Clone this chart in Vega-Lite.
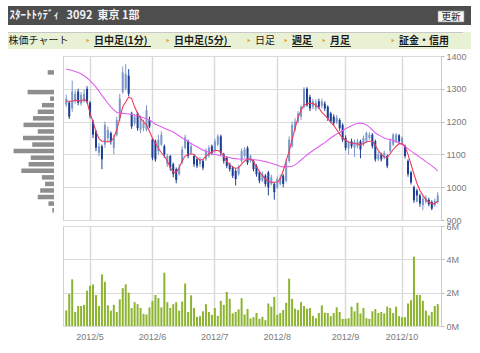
{
  "$schema": "https://vega.github.io/schema/vega-lite/v6.json",
  "padding": {"left": 7, "top": 6, "right": 2, "bottom": 2},
  "background": "white",
  "config": {"font": "Liberation Sans", "view": {"stroke": null}},
  "datasets": {
    "px": [
{"d":"2012-04-18","o":1252,"h":1282,"l":1245,"c":1270,"v":0.94,"m1":1263,"m2":1360},
{"d":"2012-04-19","o":1258,"h":1262,"l":1208,"c":1215,"v":1.92,"m1":1262,"m2":1358},
{"d":"2012-04-20","o":1240,"h":1325,"l":1230,"c":1292,"v":2.8,"m1":1262,"m2":1356},
{"d":"2012-04-23","o":1262,"h":1296,"l":1255,"c":1285,"v":0.84,"m1":1265,"m2":1353},
{"d":"2012-04-24","o":1292,"h":1300,"l":1250,"c":1258,"v":1.2,"m1":1264,"m2":1350},
{"d":"2012-04-25","o":1255,"h":1290,"l":1248,"c":1282,"v":1.2,"m1":1262,"m2":1346},
{"d":"2012-04-26","o":1262,"h":1298,"l":1258,"c":1285,"v":1.27,"m1":1268,"m2":1340},
{"d":"2012-04-27","o":1300,"h":1308,"l":1255,"c":1262,"v":2.12,"m1":1260,"m2":1333},
{"d":"2012-05-01","o":1258,"h":1262,"l":1210,"c":1218,"v":2.41,"m1":1225,"m2":1325},
{"d":"2012-05-02","o":1200,"h":1205,"l":1150,"c":1160,"v":2.49,"m1":1200,"m2":1315},
{"d":"2012-05-07","o":1170,"h":1175,"l":1110,"c":1120,"v":1.86,"m1":1170,"m2":1305},
{"d":"2012-05-08","o":1105,"h":1135,"l":1095,"c":1125,"v":1.2,"m1":1148,"m2":1293},
{"d":"2012-05-09","o":1125,"h":1130,"l":1055,"c":1085,"v":3.1,"m1":1140,"m2":1280},
{"d":"2012-05-10","o":1130,"h":1200,"l":1120,"c":1190,"v":2.65,"m1":1140,"m2":1268},
{"d":"2012-05-11","o":1150,"h":1185,"l":1140,"c":1175,"v":1.24,"m1":1138,"m2":1256},
{"d":"2012-05-14","o":1165,"h":1170,"l":1130,"c":1140,"v":0.92,"m1":1140,"m2":1245},
{"d":"2012-05-15","o":1120,"h":1160,"l":1100,"c":1150,"v":1.27,"m1":1150,"m2":1236},
{"d":"2012-05-16","o":1160,"h":1215,"l":1155,"c":1205,"v":0.84,"m1":1175,"m2":1228},
{"d":"2012-05-17","o":1210,"h":1285,"l":1200,"c":1270,"v":1.6,"m1":1210,"m2":1226},
{"d":"2012-05-18","o":1290,"h":1368,"l":1285,"c":1350,"v":2.27,"m1":1245,"m2":1225},
{"d":"2012-05-21","o":1300,"h":1375,"l":1295,"c":1345,"v":2.5,"m1":1260,"m2":1224},
{"d":"2012-05-22","o":1340,"h":1360,"l":1278,"c":1285,"v":2.0,"m1":1275,"m2":1223},
{"d":"2012-05-23","o":1225,"h":1230,"l":1178,"c":1185,"v":1.08,"m1":1270,"m2":1222},
{"d":"2012-05-24","o":1195,"h":1222,"l":1188,"c":1215,"v":1.43,"m1":1245,"m2":1220},
{"d":"2012-05-25","o":1225,"h":1230,"l":1172,"c":1180,"v":1.31,"m1":1225,"m2":1218},
{"d":"2012-05-28","o":1175,"h":1218,"l":1165,"c":1210,"v":1.08,"m1":1210,"m2":1215},
{"d":"2012-05-29","o":1180,"h":1205,"l":1170,"c":1195,"v":0.73,"m1":1200,"m2":1212},
{"d":"2012-05-30","o":1175,"h":1250,"l":1170,"c":1235,"v":0.69,"m1":1190,"m2":1208},
{"d":"2012-05-31","o":1205,"h":1215,"l":1180,"c":1185,"v":1.12,"m1":1170,"m2":1205},
{"d":"2012-06-01","o":1145,"h":1150,"l":1082,"c":1090,"v":1.51,"m1":1150,"m2":1199},
{"d":"2012-06-04","o":1140,"h":1145,"l":1078,"c":1085,"v":1.86,"m1":1135,"m2":1192},
{"d":"2012-06-05","o":1110,"h":1160,"l":1100,"c":1145,"v":1.67,"m1":1118,"m2":1188},
{"d":"2012-06-06","o":1130,"h":1170,"l":1125,"c":1160,"v":1.12,"m1":1105,"m2":1184},
{"d":"2012-06-07","o":1125,"h":1130,"l":1090,"c":1100,"v":3.2,"m1":1095,"m2":1180},
{"d":"2012-06-08","o":1070,"h":1102,"l":1062,"c":1095,"v":1.43,"m1":1080,"m2":1176},
{"d":"2012-06-11","o":1095,"h":1098,"l":1050,"c":1060,"v":1.08,"m1":1060,"m2":1172},
{"d":"2012-06-12","o":1070,"h":1075,"l":1030,"c":1040,"v":1.31,"m1":1045,"m2":1168},
{"d":"2012-06-13","o":1055,"h":1060,"l":1012,"c":1022,"v":1.43,"m1":1045,"m2":1162},
{"d":"2012-06-14","o":1040,"h":1070,"l":1035,"c":1060,"v":0.92,"m1":1060,"m2":1156},
{"d":"2012-06-15","o":1075,"h":1125,"l":1070,"c":1115,"v":1.47,"m1":1080,"m2":1150},
{"d":"2012-06-18","o":1120,"h":1160,"l":1115,"c":1152,"v":2.55,"m1":1095,"m2":1145},
{"d":"2012-06-19","o":1140,"h":1145,"l":1088,"c":1095,"v":0.84,"m1":1100,"m2":1139},
{"d":"2012-06-20","o":1105,"h":1135,"l":1098,"c":1125,"v":1.84,"m1":1102,"m2":1133},
{"d":"2012-06-21","o":1095,"h":1100,"l":1062,"c":1070,"v":1.08,"m1":1100,"m2":1128},
{"d":"2012-06-22","o":1085,"h":1090,"l":1058,"c":1065,"v":0.55,"m1":1090,"m2":1123},
{"d":"2012-06-25","o":1070,"h":1092,"l":1062,"c":1085,"v":0.59,"m1":1082,"m2":1118},
{"d":"2012-06-26","o":1080,"h":1085,"l":1052,"c":1060,"v":0.88,"m1":1085,"m2":1113},
{"d":"2012-06-27","o":1085,"h":1118,"l":1080,"c":1110,"v":1.31,"m1":1095,"m2":1110},
{"d":"2012-06-28","o":1095,"h":1128,"l":1090,"c":1120,"v":0.84,"m1":1102,"m2":1106},
{"d":"2012-06-29","o":1125,"h":1130,"l":1098,"c":1105,"v":0.67,"m1":1108,"m2":1103},
{"d":"2012-07-02","o":1110,"h":1148,"l":1105,"c":1140,"v":1.08,"m1":1112,"m2":1100},
{"d":"2012-07-03","o":1130,"h":1162,"l":1125,"c":1155,"v":0.61,"m1":1112,"m2":1098},
{"d":"2012-07-04","o":1155,"h":1160,"l":1098,"c":1105,"v":1.51,"m1":1108,"m2":1096},
{"d":"2012-07-05","o":1100,"h":1105,"l":1072,"c":1080,"v":1.27,"m1":1095,"m2":1094},
{"d":"2012-07-06","o":1090,"h":1095,"l":1058,"c":1065,"v":2.04,"m1":1078,"m2":1092},
{"d":"2012-07-09","o":1070,"h":1075,"l":1048,"c":1055,"v":1.63,"m1":1068,"m2":1090},
{"d":"2012-07-10","o":1060,"h":1065,"l":1028,"c":1035,"v":0.76,"m1":1062,"m2":1088},
{"d":"2012-07-11","o":1050,"h":1055,"l":1005,"c":1025,"v":0.84,"m1":1057,"m2":1087},
{"d":"2012-07-12","o":1040,"h":1068,"l":1035,"c":1060,"v":1.0,"m1":1060,"m2":1086},
{"d":"2012-07-13","o":1080,"h":1118,"l":1075,"c":1110,"v":1.67,"m1":1070,"m2":1086},
{"d":"2012-07-17","o":1095,"h":1122,"l":1090,"c":1115,"v":0.69,"m1":1080,"m2":1086},
{"d":"2012-07-18","o":1120,"h":1125,"l":1068,"c":1075,"v":1.02,"m1":1085,"m2":1085},
{"d":"2012-07-19","o":1080,"h":1100,"l":1075,"c":1095,"v":0.45,"m1":1086,"m2":1085},
{"d":"2012-07-20","o":1080,"h":1085,"l":1048,"c":1055,"v":0.53,"m1":1078,"m2":1084},
{"d":"2012-07-23","o":1065,"h":1070,"l":1032,"c":1040,"v":0.78,"m1":1062,"m2":1083},
{"d":"2012-07-24","o":1045,"h":1050,"l":1012,"c":1020,"v":0.43,"m1":1048,"m2":1082},
{"d":"2012-07-25","o":1020,"h":1048,"l":1015,"c":1040,"v":0.55,"m1":1035,"m2":1080},
{"d":"2012-07-26","o":1035,"h":1040,"l":1002,"c":1010,"v":0.35,"m1":1025,"m2":1078},
{"d":"2012-07-27","o":1045,"h":1050,"l":975,"c":1000,"v":1.35,"m1":1018,"m2":1076},
{"d":"2012-07-30","o":1010,"h":1038,"l":1005,"c":1030,"v":1.16,"m1":1015,"m2":1073},
{"d":"2012-07-31","o":1010,"h":1015,"l":962,"c":985,"v":1.75,"m1":1015,"m2":1070},
{"d":"2012-08-01","o":1000,"h":1032,"l":995,"c":1025,"v":0.67,"m1":1015,"m2":1067},
{"d":"2012-08-02","o":1010,"h":1038,"l":1005,"c":1030,"v":0.78,"m1":1025,"m2":1064},
{"d":"2012-08-03","o":1035,"h":1040,"l":1000,"c":1010,"v":0.96,"m1":1050,"m2":1062},
{"d":"2012-08-06","o":1020,"h":1085,"l":1015,"c":1075,"v":1.39,"m1":1080,"m2":1062},
{"d":"2012-08-07","o":1080,"h":1155,"l":1075,"c":1145,"v":2.84,"m1":1110,"m2":1063},
{"d":"2012-08-08","o":1125,"h":1200,"l":1120,"c":1190,"v":1.63,"m1":1145,"m2":1064},
{"d":"2012-08-09","o":1175,"h":1210,"l":1170,"c":1200,"v":1.04,"m1":1180,"m2":1068},
{"d":"2012-08-10","o":1200,"h":1232,"l":1195,"c":1225,"v":0.96,"m1":1212,"m2":1075},
{"d":"2012-08-13","o":1215,"h":1250,"l":1205,"c":1245,"v":1.43,"m1":1235,"m2":1083},
{"d":"2012-08-14","o":1245,"h":1305,"l":1240,"c":1300,"v":1.2,"m1":1250,"m2":1091},
{"d":"2012-08-15","o":1300,"h":1305,"l":1245,"c":1250,"v":1.04,"m1":1254,"m2":1098},
{"d":"2012-08-16","o":1275,"h":1282,"l":1232,"c":1240,"v":1.08,"m1":1256,"m2":1105},
{"d":"2012-08-17","o":1245,"h":1270,"l":1238,"c":1262,"v":0.61,"m1":1255,"m2":1112},
{"d":"2012-08-20","o":1240,"h":1268,"l":1232,"c":1258,"v":0.47,"m1":1250,"m2":1118},
{"d":"2012-08-21","o":1262,"h":1270,"l":1238,"c":1245,"v":0.78,"m1":1242,"m2":1124},
{"d":"2012-08-22","o":1248,"h":1270,"l":1240,"c":1262,"v":1.24,"m1":1228,"m2":1130},
{"d":"2012-08-23","o":1255,"h":1262,"l":1232,"c":1240,"v":0.8,"m1":1220,"m2":1136},
{"d":"2012-08-24","o":1245,"h":1250,"l":1202,"c":1210,"v":0.78,"m1":1210,"m2":1143},
{"d":"2012-08-27","o":1225,"h":1230,"l":1195,"c":1200,"v":0.59,"m1":1198,"m2":1150},
{"d":"2012-08-28","o":1215,"h":1222,"l":1188,"c":1195,"v":0.78,"m1":1188,"m2":1156},
{"d":"2012-08-29","o":1198,"h":1220,"l":1192,"c":1212,"v":1.12,"m1":1175,"m2":1162},
{"d":"2012-08-30","o":1205,"h":1210,"l":1172,"c":1180,"v":0.84,"m1":1162,"m2":1167},
{"d":"2012-08-31","o":1190,"h":1195,"l":1138,"c":1145,"v":0.43,"m1":1150,"m2":1173},
{"d":"2012-09-03","o":1150,"h":1158,"l":1112,"c":1120,"v":0.43,"m1":1143,"m2":1178},
{"d":"2012-09-04","o":1118,"h":1142,"l":1100,"c":1135,"v":0.47,"m1":1138,"m2":1183},
{"d":"2012-09-05","o":1140,"h":1148,"l":1118,"c":1125,"v":1.16,"m1":1135,"m2":1187},
{"d":"2012-09-06","o":1120,"h":1145,"l":1092,"c":1138,"v":0.88,"m1":1133,"m2":1192},
{"d":"2012-09-07","o":1125,"h":1148,"l":1118,"c":1140,"v":1.39,"m1":1132,"m2":1194},
{"d":"2012-09-10","o":1140,"h":1145,"l":1088,"c":1115,"v":0.75,"m1":1130,"m2":1195},
{"d":"2012-09-11","o":1130,"h":1158,"l":1125,"c":1150,"v":1.08,"m1":1133,"m2":1194},
{"d":"2012-09-12","o":1140,"h":1170,"l":1135,"c":1165,"v":0.47,"m1":1138,"m2":1190},
{"d":"2012-09-13","o":1150,"h":1168,"l":1145,"c":1160,"v":0.43,"m1":1140,"m2":1183},
{"d":"2012-09-14","o":1160,"h":1165,"l":1118,"c":1125,"v":0.88,"m1":1140,"m2":1175},
{"d":"2012-09-18","o":1140,"h":1145,"l":1078,"c":1085,"v":1.02,"m1":1128,"m2":1165},
{"d":"2012-09-19","o":1085,"h":1108,"l":1080,"c":1100,"v":0.78,"m1":1112,"m2":1160},
{"d":"2012-09-20","o":1100,"h":1105,"l":1078,"c":1085,"v":0.84,"m1":1100,"m2":1155},
{"d":"2012-09-21","o":1090,"h":1112,"l":1085,"c":1105,"v":0.76,"m1":1092,"m2":1150},
{"d":"2012-09-24","o":1095,"h":1100,"l":1058,"c":1065,"v":1.16,"m1":1090,"m2":1147},
{"d":"2012-09-25","o":1110,"h":1148,"l":1105,"c":1140,"v":1.08,"m1":1102,"m2":1145},
{"d":"2012-09-26","o":1130,"h":1165,"l":1125,"c":1160,"v":0.78,"m1":1115,"m2":1142},
{"d":"2012-09-27","o":1140,"h":1165,"l":1135,"c":1160,"v":1.16,"m1":1125,"m2":1139},
{"d":"2012-09-28","o":1158,"h":1162,"l":1132,"c":1140,"v":0.59,"m1":1132,"m2":1135},
{"d":"2012-10-01","o":1135,"h":1155,"l":1128,"c":1150,"v":0.53,"m1":1133,"m2":1130},
{"d":"2012-10-02","o":1125,"h":1130,"l":1088,"c":1095,"v":0.53,"m1":1125,"m2":1124},
{"d":"2012-10-03","o":1080,"h":1085,"l":1032,"c":1040,"v":1.35,"m1":1100,"m2":1117},
{"d":"2012-10-04","o":1045,"h":1050,"l":1008,"c":1015,"v":1.55,"m1":1070,"m2":1110},
{"d":"2012-10-05","o":1000,"h":1005,"l":952,"c":960,"v":4.16,"m1":1040,"m2":1104},
{"d":"2012-10-09","o":990,"h":995,"l":955,"c":975,"v":1.86,"m1":1012,"m2":1098},
{"d":"2012-10-10","o":975,"h":980,"l":940,"c":950,"v":1.86,"m1":990,"m2":1091},
{"d":"2012-10-11","o":945,"h":972,"l":930,"c":965,"v":1.51,"m1":975,"m2":1085},
{"d":"2012-10-12","o":955,"h":975,"l":950,"c":968,"v":0.92,"m1":962,"m2":1078},
{"d":"2012-10-15","o":962,"h":968,"l":942,"c":948,"v":0.63,"m1":955,"m2":1072},
{"d":"2012-10-16","o":955,"h":960,"l":930,"c":935,"v":0.84,"m1":950,"m2":1065},
{"d":"2012-10-17","o":945,"h":965,"l":940,"c":958,"v":1.2,"m1":950,"m2":1058},
{"d":"2012-10-18","o":955,"h":985,"l":950,"c":975,"v":1.31,"m1":958,"m2":1050}
    ],
    "prof": [
      {"p":1350,"vol":2.6},{"p":1290,"vol":10.9},{"p":1270,"vol":1.6},{"p":1250,"vol":5.0},
      {"p":1230,"vol":6.7},{"p":1210,"vol":8.7},{"p":1190,"vol":12.6},{"p":1170,"vol":6.7},
      {"p":1150,"vol":12.8},{"p":1130,"vol":9.0},{"p":1110,"vol":16.7},{"p":1090,"vol":9.6},
      {"p":1070,"vol":10.5},{"p":1050,"vol":13.5},{"p":1030,"vol":5.0},{"p":1010,"vol":3.7},
      {"p":990,"vol":5.7},{"p":970,"vol":6.7},{"p":950,"vol":2.3},{"p":930,"vol":0.7}
    ]
  },
  "spacing": 2,
  "vconcat": [
    {
      "spacing": 7,
      "vconcat": [
        {
          "width": 463,
          "height": 19,
          "view": {"fill": "#4e4e4e", "stroke": null},
          "data": {"values": [
            {"item": "title", "k": 0, "text": "ｽﾀｰﾄﾄｩﾃﾞｨ\u00a0\u00a0\u00a03092\u00a0\u00a0東京\u00a01部"},
            {"item": "button", "k": 1, "text": "更新"}
          ]},
          "encoding": {
            "x": {"field": "k", "type": "quantitative", "scale": {"domain": [0, 1], "range": [1.5, 443], "nice": false}, "axis": null}
          },
          "layer": [
            {
              "transform": [{"filter": "datum.item == 'button'"}],
              "mark": {"type": "point", "shape": "M-1,-0.42H1V0.42H-1Z", "size": 676, "filled": true, "fill": "#f6f6f6", "stroke": "#999999", "strokeWidth": 0.6, "opacity": 1, "yOffset": 1}
            },
            {
              "transform": [{"filter": "datum.item == 'button'"}],
              "mark": {"type": "text", "align": "center", "baseline": "middle", "font": "Noto Sans CJK JP", "fontSize": 9.5, "color": "#222222", "yOffset": 1},
              "encoding": {"text": {"field": "text"}}
            },
            {
              "transform": [{"filter": "datum.item == 'title'"}],
              "mark": {"type": "text", "align": "left", "baseline": "middle", "font": "Noto Sans CJK JP", "fontSize": 11, "fontWeight": "bold", "color": "#f2f2f2"},
              "encoding": {"text": {"field": "text"}}
            }
          ]
        },
        {
          "width": 463,
          "height": 17,
          "view": {"fill": "#e9f1d5", "stroke": null},
          "data": {"values": [
            {"label": "株価チャート", "k": 0, "kind": "title"},
            {"label": "日中足(1分)", "k": 1, "kind": "link"},
            {"label": "日中足(5分)", "k": 2, "kind": "link"},
            {"label": "日足", "k": 3, "kind": "current"},
            {"label": "週足", "k": 4, "kind": "link"},
            {"label": "月足", "k": 5, "kind": "link"},
            {"label": "証金・信用", "k": 6, "kind": "link"}
          ]},
          "encoding": {
            "x": {"field": "k", "type": "quantitative", "scale": {"domain": [0, 1, 2, 3, 4, 5, 6], "range": [0.5, 86, 166, 247, 284, 322, 391], "nice": false}, "axis": null}
          },
          "layer": [
            {
              "mark": {"type": "rule", "color": "#c8c8c8", "strokeWidth": 1, "yOffset": -8, "xOffset": -0.5, "x2Offset": 64},
              "encoding": {"x": {"datum": 0}, "x2": {"datum": 6}}
            },
            {
              "transform": [{"filter": "datum.kind != 'title'"}],
              "mark": {"type": "point", "shape": "triangle-right", "size": 12, "filled": true, "color": "#f0a020", "opacity": 1, "xOffset": -6}
            },
            {
              "transform": [{"filter": "datum.kind != 'link'"}],
              "mark": {"type": "text", "align": "left", "baseline": "middle", "font": "Noto Sans CJK JP", "fontSize": 10, "color": "#1a1a1a"},
              "encoding": {"text": {"field": "label"}}
            },
            {
              "transform": [{"filter": "datum.kind == 'link'"}],
              "mark": {"type": "text", "align": "left", "baseline": "middle", "font": "Noto Sans CJK JP", "fontSize": 10, "fontWeight": "bold", "color": "#1a1a1a"},
              "encoding": {"text": {"field": "label"}}
            },
            {
              "transform": [{"filter": "datum.k == 1 || datum.k == 2"}],
              "mark": {"type": "rule", "color": "#1a1a1a", "strokeWidth": 1, "yOffset": 6, "x2Offset": 57},
              "encoding": {"x2": {"field": "k"}}
            },
            {
              "transform": [{"filter": "datum.k == 4 || datum.k == 5"}],
              "mark": {"type": "rule", "color": "#1a1a1a", "strokeWidth": 1, "yOffset": 6, "x2Offset": 21},
              "encoding": {"x2": {"field": "k"}}
            },
            {
              "transform": [{"filter": "datum.k == 6"}],
              "mark": {"type": "rule", "color": "#1a1a1a", "strokeWidth": 1, "yOffset": 6, "x2Offset": 49},
              "encoding": {"x2": {"field": "k"}}
            }
          ]
        }
      ]
    },
    {
      "spacing": 5,
      "hconcat": [
        {
          "width": 46,
          "height": 164,
          "data": {"name": "prof"},
          "mark": {"type": "rule", "strokeWidth": 4.5, "color": "#8e8e8e"},
          "encoding": {
            "y": {"field": "p", "type": "quantitative", "scale": {"domain": [900, 1400], "nice": false}, "axis": null},
            "x": {"field": "vol", "type": "quantitative", "scale": {"domain": [0, 19], "reverse": true, "nice": false}, "axis": null},
            "x2": {"datum": 0}
          }
        },
        {
          "spacing": -9,
          "vconcat": [
            {
              "width": 378,
              "height": 164,
              "data": {"name": "px"},
              "view": {"stroke": "#d0d0d0"},
              "encoding": {
                "x": {
                  "field": "d", "type": "ordinal",
                  "scale": {"type": "band", "paddingInner": 0, "paddingOuter": 0.6},
                  "axis": {"values": ["2012-05-01", "2012-06-01", "2012-07-02", "2012-08-01", "2012-09-03", "2012-10-01"], "labels": false, "ticks": false, "domain": false, "grid": true, "gridColor": "#dadada", "gridWidth": 1.5, "title": null, "bandPosition": 0.5}
                }
              },
              "layer": [
                {
                  "mark": {"type": "rule", "strokeWidth": 1},
                  "encoding": {
                    "y": {"field": "l", "type": "quantitative", "scale": {"domain": [900, 1400], "nice": false, "zero": false},
                      "axis": {"orient": "right", "values": [900, 1000, 1100, 1200, 1300, 1400], "format": "d", "labelOverlap": false, "title": null, "grid": true, "gridColor": "#dadada", "gridWidth": 1.2, "domain": true, "domainColor": "#cccccc", "tickColor": "#bbbbbb", "tickSize": 3, "labelPadding": 2, "labelFont": "Liberation Sans", "labelFontSize": 9, "labelColor": "#7a7a7a"}},
                    "y2": {"field": "h"},
                    "color": {"condition": {"test": "datum.c >= datum.o", "value": "#7d98c8"}, "value": "#1c3f93"}
                  }
                },
                {
                  "mark": {"type": "bar", "width": 2},
                  "encoding": {
                    "y": {"field": "o", "type": "quantitative",
                      "axis": {"orient": "right", "values": [900, 1000, 1100, 1200, 1300, 1400], "format": "d", "labelOverlap": false, "title": null, "grid": true, "gridColor": "#dadada", "gridWidth": 1.2, "domain": true, "domainColor": "#cccccc", "tickColor": "#bbbbbb", "tickSize": 3, "labelPadding": 2, "labelFont": "Liberation Sans", "labelFontSize": 9, "labelColor": "#7a7a7a"}},
                    "y2": {"field": "c"},
                    "color": {"condition": {"test": "datum.c >= datum.o", "value": "#7d98c8"}, "value": "#1c3f93"}
                  }
                },
                {
                  "mark": {"type": "line", "color": "#e060f0", "strokeWidth": 1.1},
                  "encoding": {"y": {"field": "m2", "type": "quantitative",
                      "axis": {"orient": "right", "values": [900, 1000, 1100, 1200, 1300, 1400], "format": "d", "labelOverlap": false, "title": null, "grid": true, "gridColor": "#dadada", "gridWidth": 1.2, "domain": true, "domainColor": "#cccccc", "tickColor": "#bbbbbb", "tickSize": 3, "labelPadding": 2, "labelFont": "Liberation Sans", "labelFontSize": 9, "labelColor": "#7a7a7a"}}}
                },
                {
                  "mark": {"type": "line", "color": "#ec3b5c", "strokeWidth": 1.1},
                  "encoding": {"y": {"field": "m1", "type": "quantitative",
                      "axis": {"orient": "right", "values": [900, 1000, 1100, 1200, 1300, 1400], "format": "d", "labelOverlap": false, "title": null, "grid": true, "gridColor": "#dadada", "gridWidth": 1.2, "domain": true, "domainColor": "#cccccc", "tickColor": "#bbbbbb", "tickSize": 3, "labelPadding": 2, "labelFont": "Liberation Sans", "labelFontSize": 9, "labelColor": "#7a7a7a"}}}
                }
              ]
            },
            {
              "width": 378,
              "height": 100,
              "data": {"name": "px"},
              "view": {"stroke": "#d0d0d0"},
              "mark": {"type": "bar", "width": 2, "color": "#8cb430"},
              "encoding": {
                "x": {
                  "field": "d", "type": "ordinal",
                  "scale": {"type": "band", "paddingInner": 0, "paddingOuter": 0.6},
                  "axis": {"values": ["2012-05-01", "2012-06-01", "2012-07-02", "2012-08-01", "2012-09-03", "2012-10-01"], "labelExpr": "'2012/' + toNumber(substring(datum.value, 5, 7))", "labelAngle": 0, "labelAlign": "center", "ticks": false, "domain": false, "grid": true, "gridColor": "#dadada", "gridWidth": 1.5, "title": null, "bandPosition": 0.5, "labelPadding": 6, "labelFont": "Liberation Sans", "labelFontSize": 9, "labelColor": "#7a7a7a"}
                },
                "y": {
                  "field": "v", "type": "quantitative", "scale": {"domain": [0, 6], "nice": false},
                  "axis": {"orient": "right", "values": [0, 2, 4, 6], "labelExpr": "datum.value + 'M'", "labelOverlap": false, "title": null, "grid": true, "gridColor": "#dadada", "gridWidth": 1.2, "domain": true, "domainColor": "#cccccc", "tickColor": "#bbbbbb", "tickSize": 3, "labelPadding": 2, "labelFont": "Liberation Sans", "labelFontSize": 9, "labelColor": "#7a7a7a"}
                }
              }
            }
          ]
        }
      ]
    }
  ]
}
